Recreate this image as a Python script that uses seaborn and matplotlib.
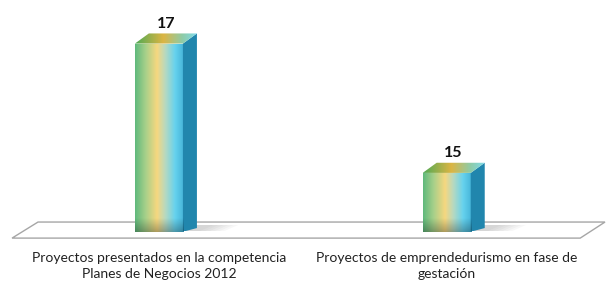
import numpy as np
import matplotlib
matplotlib.use("Agg")
from matplotlib import pyplot as plt
from matplotlib.colors import LinearSegmentedColormap
from matplotlib.patches import Polygon
import seaborn as sns

categories = ["Proyectos presentados en la competencia\nPlanes de Negocios 2012",
              "Proyectos de emprendedurismo en fase de\ngestación"]
values = [17, 15]

sns.set_style("white")
plt.rcParams['font.family'] = ['Lato', 'DejaVu Sans']

fig = plt.figure(figsize=(6.12, 2.86), dpi=100)
ax = fig.add_axes([15 / 612, 0.192, 590 / 612, 0.7913])

sns.barplot(x=categories, y=values, width=0.167, color="white", ax=ax, zorder=2)

ymin, ymax = 14.1, 17.6
xmin, xmax = -0.5, 1.55
dx, dy = 14 / 288, 10 / 63.8   # depth of the 3D look in data units

front = LinearSegmentedColormap.from_list("front", [
    (0.0, "#5fb97c"), (0.22, "#a8d08a"), (0.45, "#f6d77f"),
    (0.62, "#b7d9c0"), (0.82, "#66d2ee"), (1.0, "#44b3d8")])
topc = LinearSegmentedColormap.from_list("top", [
    (0.0, "#4faa55"), (0.45, "#dcb543"), (0.75, "#8fcba6"), (1.0, "#7ddcf0")])
shade = LinearSegmentedColormap.from_list("shade", [(0, 0, 0, 0.28), (0, 0, 0, 0.0)])
grad = np.linspace(0, 1, 256)[None, :]
vgrad = np.linspace(0, 1, 64)[::-1, None]

for p, v in zip(ax.patches, values):
    x, w = p.get_x(), p.get_width()
    p.set_facecolor("none")
    p.set_edgecolor("none")
    # soft shadow on the floor
    for k in range(6):
        s = 1 + k * 0.35
        ax.add_patch(Polygon([(x + w * 0.3, ymin - 0.02), (x + w + dx * s, ymin - 0.02),
                              (x + w + dx * (s + 1.2), ymin + dy * 0.6),
                              (x + w * 0.3 + dx, ymin + dy * 0.6)],
                             closed=True, facecolor="#808080", alpha=0.06,
                             edgecolor="none", zorder=2))
    im = ax.imshow(grad, cmap=front, extent=(x, x + w, ymin - 0.01, v),
                   aspect="auto", zorder=3)
    im.set_clip_path(p)
    sh = ax.imshow(vgrad, cmap=shade, extent=(x, x + w, ymin - 0.01, ymin + 0.2),
                   aspect="auto", zorder=3.5)
    sh.set_clip_path(p)
    # side face
    ax.add_patch(Polygon([(x + w, ymin - 0.01), (x + w, v), (x + w + dx, v + dy),
                          (x + w + dx, ymin + dy * 0.3)],
                         closed=True, facecolor="#2186ad", edgecolor="none", zorder=3))
    # top face
    tp = Polygon([(x, v), (x + w, v), (x + w + dx, v + dy), (x + dx, v + dy)],
                 closed=True, facecolor="none", edgecolor="none", zorder=3)
    ax.add_patch(tp)
    im2 = ax.imshow(grad, cmap=topc, extent=(x, x + w + dx, v, v + dy),
                    aspect="auto", zorder=3)
    im2.set_clip_path(tp)
    ax.annotate(f"{v}", xy=(x + w / 2 + dx / 2, v + dy), xytext=(0, 2),
                textcoords="offset points", ha="center", va="bottom",
                fontsize=11.5, fontweight="bold", color="#111111")

# floor
floor = Polygon([(0.039, 0.040), (1.0, 0.040), (0.958, -0.031), (-0.005, -0.031)],
                closed=True, facecolor="white", edgecolor="#a6a6a6", lw=1,
                transform=ax.transAxes, clip_on=False, zorder=1)
ax.add_patch(floor)

ax.set_xlim(xmin, xmax)
ax.set_ylim(ymin, ymax)
ax.set_yticks([])
ax.set_ylabel("")
ax.tick_params(axis="x", length=0, pad=15, labelsize=10, colors="#222222")
for lab in ax.get_xticklabels():
    lab.set_linespacing(1.45)
sns.despine(ax=ax, left=True, bottom=True)

fig.savefig("out.png", dpi=100)
